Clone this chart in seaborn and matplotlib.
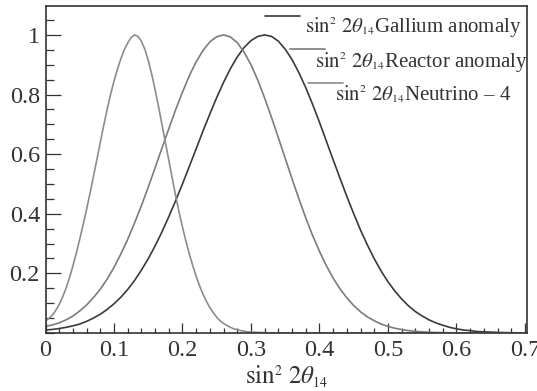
import numpy as np
import pandas as pd
import matplotlib
matplotlib.use("Agg")
import matplotlib.pyplot as plt
from matplotlib.lines import Line2D
from matplotlib.ticker import MultipleLocator
import matplotlib._mathtext as _mt
import seaborn as sns

# ---- data ----
x_vals = [round(0.01 * i, 2) for i in range(71)]

gallium = [0.010, 0.012, 0.015, 0.019, 0.024, 0.030, 0.039, 0.050, 0.063, 0.079,
           0.098, 0.120, 0.146, 0.176, 0.211, 0.249, 0.292, 0.339, 0.390, 0.444,
           0.500, 0.559, 0.618, 0.678, 0.735, 0.790, 0.841, 0.887, 0.926, 0.958,
           0.981, 0.995, 1.000, 0.995, 0.979, 0.952, 0.917, 0.873, 0.823, 0.767,
           0.707, 0.644, 0.581, 0.519, 0.458, 0.400, 0.345, 0.295, 0.249, 0.208,
           0.172, 0.141, 0.114, 0.091, 0.072, 0.057, 0.044, 0.034, 0.026, 0.019,
           0.014, 0.010, 0.008, 0.005, 0.004, 0.003, 0.002, 0.0013, 0.0009, 0.0006,
           0.0004]

reactor = [0.022, 0.027, 0.034, 0.044, 0.057, 0.074, 0.094, 0.119, 0.147, 0.181,
           0.220, 0.265, 0.314, 0.369, 0.427, 0.489, 0.554, 0.620, 0.685, 0.749,
           0.808, 0.863, 0.910, 0.948, 0.977, 0.994, 1.000, 0.993, 0.974, 0.942,
           0.900, 0.848, 0.788, 0.723, 0.655, 0.586, 0.517, 0.450, 0.386, 0.327,
           0.274, 0.226, 0.184, 0.148, 0.118, 0.092, 0.071, 0.054, 0.041, 0.030,
           0.022, 0.016, 0.0115, 0.008, 0.0056, 0.0038, 0.0026, 0.0018, 0.0012, 0.0008,
           0.0005, 0.0003, 0.0002, 0.0001, 0.0001, 0.0, 0.0, 0.0, 0.0, 0.0,
           0.0]

nu4_x = [0.000, 0.005, 0.010, 0.015, 0.020, 0.025, 0.030, 0.035, 0.040, 0.045,
         0.050, 0.055, 0.060, 0.065, 0.070, 0.075, 0.080, 0.085, 0.090, 0.095,
         0.100, 0.105, 0.110, 0.115, 0.120, 0.125, 0.130, 0.135, 0.140, 0.145,
         0.150, 0.155, 0.160, 0.165, 0.170, 0.175, 0.180, 0.185, 0.190, 0.195,
         0.200, 0.205, 0.210, 0.215, 0.220, 0.225, 0.230, 0.235, 0.240, 0.245,
         0.250, 0.255, 0.260, 0.265, 0.270, 0.275, 0.280, 0.285, 0.290, 0.295,
         0.300, 0.320, 0.340, 0.400, 0.500, 0.600, 0.700]
neutrino4 = [0.040, 0.049, 0.060, 0.076, 0.096, 0.121, 0.150, 0.185, 0.225, 0.268,
             0.315, 0.364, 0.415, 0.469, 0.525, 0.582, 0.640, 0.696, 0.750, 0.800,
             0.845, 0.885, 0.920, 0.950, 0.973, 0.991, 1.000, 0.995, 0.979, 0.952,
             0.915, 0.869, 0.816, 0.760, 0.700, 0.640, 0.580, 0.520, 0.461, 0.406,
             0.355, 0.308, 0.265, 0.226, 0.190, 0.158, 0.130, 0.106, 0.085, 0.068,
             0.053, 0.041, 0.032, 0.025, 0.019, 0.014, 0.011, 0.008, 0.006, 0.004,
             0.003, 0.001, 0.0, 0.0, 0.0, 0.0, 0.0]

series_names = ["Gallium anomaly", "Reactor anomaly", "Neutrino \u2013 4"]
series_colors = ["#3a3a3a", "#7c7c7c", "#8c8c8c"]

x_ticks = [0, 0.1, 0.2, 0.3, 0.4, 0.5, 0.6, 0.7]
x_tick_labels = ["0", "0.1", "0.2", "0.3", "0.4", "0.5", "0.6", "0.7"]
y_ticks = [0.2, 0.4, 0.6, 0.8, 1.0]
y_tick_labels = ["0.2", "0.4", "0.6", "0.8", "1"]

df = pd.concat([
    pd.DataFrame({"x": x_vals, "y": gallium, "s": series_names[0]}),
    pd.DataFrame({"x": x_vals, "y": reactor, "s": series_names[1]}),
    pd.DataFrame({"x": nu4_x, "y": neutrino4, "s": series_names[2]}),
], ignore_index=True)

# ---- styling ----
sns.set_style("ticks")
plt.rcParams["font.family"] = ["Liberation Serif", "DejaVu Serif"]
plt.rcParams["mathtext.fontset"] = "stix"
_mt.SHRINK_FACTOR = 0.55  # smaller super/subscripts, as in the reference

fig = plt.figure(figsize=(5.37, 3.91), dpi=100)
ax = fig.add_axes([45.5 / 537, 1 - 333 / 391, 481.5 / 537, 327 / 391])

sns.lineplot(data=df, x="x", y="y", hue="s", hue_order=series_names,
             palette=dict(zip(series_names, series_colors)),
             estimator=None, sort=True, linewidth=1.2, legend=False, ax=ax)

ax.set_xlim(0, 0.703)
ax.set_ylim(0, 1.097)
ax.set_xticks(x_ticks)
ax.set_xticklabels(x_tick_labels)
ax.set_yticks(y_ticks)
ax.set_yticklabels(y_tick_labels)
ax.xaxis.set_minor_locator(MultipleLocator(0.02))
ax.yaxis.set_minor_locator(MultipleLocator(0.05))

ax.tick_params(axis="both", which="both", direction="in", colors="#333333",
               labelcolor="#333333", labelsize=17.5, width=0.9,
               top=False, right=False)
ax.tick_params(axis="x", which="major", length=7.2, pad=5)
ax.tick_params(axis="x", which="minor", length=3.6)
ax.tick_params(axis="y", which="major", length=10.8, pad=4)
ax.tick_params(axis="y", which="minor", length=5.4)

for sp in ax.spines.values():
    sp.set_visible(True)
    sp.set_color("#333333")
    sp.set_linewidth(1.2)

ax.set_xlabel(r"$\sin^{2}\,2\theta_{14}$", fontsize=18, color="#333333",
              labelpad=2)
ax.set_ylabel("")

# ---- legend (ROOT-like staggered entries) ----
leg_lines = [(0.456, 0.529, 0.969), (0.508, 0.580, 0.869), (0.545, 0.618, 0.765)]
leg_text = [(0.539, 0.921), (0.560, 0.814), (0.601, 0.713)]
for name, col, (x0, x1, yl), (xt, yt) in zip(series_names, series_colors,
                                             leg_lines, leg_text):
    ax.add_line(Line2D([x0, x1], [yl, yl], transform=ax.transAxes,
                       color=col, linewidth=1.2, clip_on=False))
    ax.text(xt, yt, r"$\sin^{2}\,2\theta_{14}$" + name, transform=ax.transAxes,
            fontsize=15, color="#333333", ha="left", va="baseline")

fig.savefig("out.png", dpi=100)
